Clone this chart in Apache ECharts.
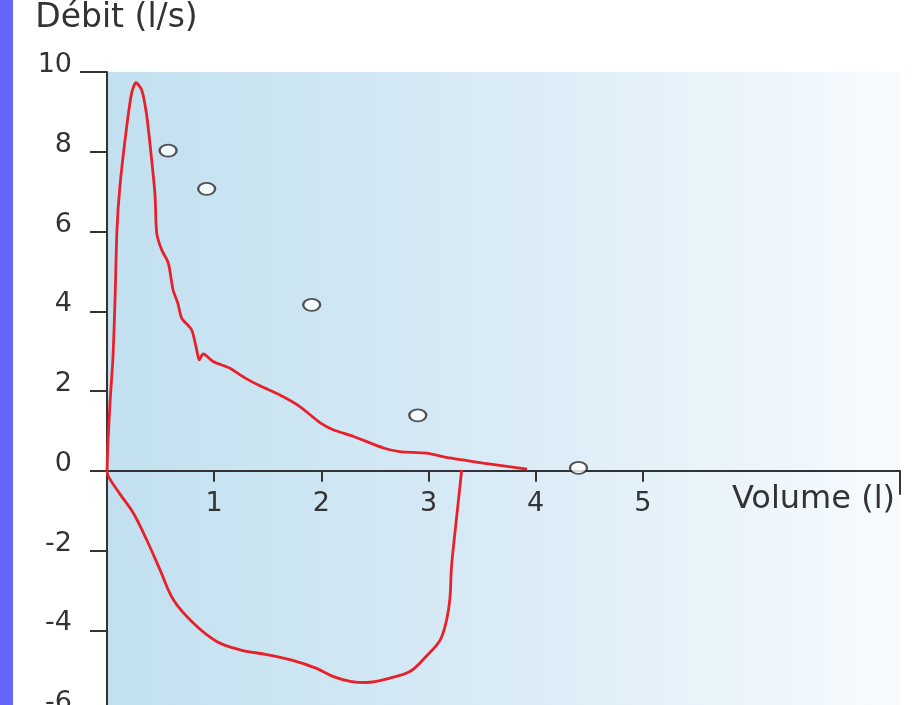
<!DOCTYPE html>
<html><head><meta charset="utf-8">
<script src="https://cdn.jsdelivr.net/npm/echarts@6/dist/echarts.min.js"></script>
<style>html,body{margin:0;padding:0;background:#fff;}#c{width:918px;height:705px;}</style>
</head><body><div id="c"></div>
<script>
// Expiratory limb (upper part of the loop): volume (l), flow (l/s)
const expVolume = [0, 0.01, 0.03, 0.056, 0.075, 0.093, 0.12, 0.184, 0.23, 0.27, 0.324, 0.37, 0.417, 0.448, 0.464, 0.51, 0.572, 0.616, 0.66, 0.697, 0.79, 0.837, 0.861, 0.898, 0.99, 1.147, 1.287, 1.427, 1.614, 1.80, 1.99, 2.11, 2.30, 2.58, 2.73, 2.98, 3.20, 3.51, 3.92];
const expFlow   = [0, 0.78, 1.78, 2.86, 4.29, 6.04, 7.12, 8.63, 9.47, 9.73, 9.55, 8.92, 7.79, 6.92, 5.96, 5.54, 5.21, 4.54, 4.21, 3.83, 3.53, 3.03, 2.78, 2.93, 2.74, 2.57, 2.33, 2.13, 1.90, 1.61, 1.20, 1.03, 0.86, 0.57, 0.48, 0.44, 0.32, 0.19, 0.04];
// Inspiratory limb (lower part of the loop)
const inspVolume = [0, 0.012, 0.12, 0.245, 0.37, 0.494, 0.618, 0.805, 1.023, 1.24, 1.49, 1.74, 1.95, 2.12, 2.27, 2.42, 2.64, 2.83, 2.98, 3.11, 3.17, 3.20, 3.215, 3.25, 3.31];
const inspFlow   = [0, -0.14, -0.58, -1.06, -1.73, -2.48, -3.23, -3.82, -4.28, -4.49, -4.61, -4.76, -4.95, -5.17, -5.28, -5.31, -5.20, -5.03, -4.65, -4.24, -3.73, -3.20, -2.40, -1.48, 0.02];
// Reference (predicted) points
const refVolume = [0.57, 0.93, 1.91, 2.90, 4.40];
const refFlow   = [8.03, 7.07, 4.16, 1.39, 0.07];
// Axes
const xTickValues = [1, 2, 3, 4, 5];
const xMin = 0, xMax = 7.4, xStep = 1;
const yMin = -6, yMax = 10, yStep = 2;
const xName = 'Volume (l)';
const yName = 'Débit (l/s)';

const zip = (a, b) => a.map((v, i) => [v, b[i]]);
const FONT = 'DejaVu Sans';
const AX = '#333';

// layout of the plot area
const W = 918, H = 705, gLeft = 107, gRight = 18, gTop = 72, gBottom = -5;
const plotH = H - gTop - gBottom;
const zeroFromBottom = H - (gTop + plotH * (yMax - 0) / (yMax - yMin));

const chart = echarts.init(document.getElementById('c'), null, {renderer: 'canvas'});
chart.setOption({
  animation: false,
  backgroundColor: '#ffffff',
  graphic: [{type: 'rect', left: 0, top: 0, shape: {width: 13, height: H}, style: {fill: '#6666ff'}, z: 100}],
  grid: [{
    left: gLeft, right: gRight, top: gTop, bottom: gBottom,
    show: true, borderWidth: 0, outerBoundsMode: 'none',
    backgroundColor: {type: 'linear', x: 0, y: 0, x2: 1, y2: 0, colorStops: [
      {offset: 0, color: '#c2e0f0'}, {offset: 0.5, color: '#d9ebf6'}, {offset: 1, color: '#f7fbfe'}]}
  }, {
    // upper half, whose bottom edge is the zero line: carries the x tick labels
    left: gLeft, right: gRight, top: gTop, bottom: zeroFromBottom,
    show: false, outerBoundsMode: 'none'
  }],
  xAxis: [{
    gridIndex: 0, type: 'value', min: xMin, max: xMax, interval: xStep, position: 'bottom',
    axisLine: {show: true, onZero: true, lineStyle: {color: AX, width: 2}},
    splitLine: {show: false},
    axisTick: {show: true, customValues: xTickValues, length: 11, lineStyle: {color: AX, width: 2}},
    axisLabel: {show: false},
    name: xName, nameLocation: 'end', nameGap: -5,
    nameTextStyle: {fontFamily: FONT, fontSize: 32, color: '#333', align: 'right', verticalAlign: 'top', padding: [13, 0, 0, 0]}
  }, {
    gridIndex: 0, type: 'value', min: xMin, max: xMax, position: 'bottom',
    axisLine: {show: true, onZero: true, onZeroAxisIndex: 0, lineStyle: {color: AX, width: 0, opacity: 0}},
    splitLine: {show: false},
    axisTick: {show: true, customValues: [xMax], length: 24, lineStyle: {color: AX, width: 2}},
    axisLabel: {show: false}
  }, {
    gridIndex: 1, type: 'value', min: xMin, max: xMax, interval: xStep, position: 'bottom',
    axisLine: {show: false, onZero: false},
    splitLine: {show: false},
    axisTick: {show: false},
    axisLabel: {
      fontFamily: FONT, fontSize: 27, color: '#333', margin: 20, hideOverlap: false,
      formatter: v => (xTickValues.indexOf(v) >= 0 ? String(v) : '')
    }
  }],
  yAxis: [{
    gridIndex: 0, type: 'value', min: yMin, max: yMax, interval: yStep, position: 'left',
    axisLine: {show: true, onZero: false, lineStyle: {color: AX, width: 2}},
    splitLine: {show: false},
    axisTick: {show: true, length: 17, lineStyle: {color: AX, width: 2}},
    axisLabel: {fontFamily: FONT, fontSize: 27, color: '#333', margin: 35, verticalAlign: 'bottom', lineHeight: 14},
    name: yName, nameLocation: 'end', nameGap: 37,
    nameTextStyle: {fontFamily: FONT, fontSize: 33, color: '#333', align: 'center', padding: [0, 0, 0, 19]}
  }, {
    gridIndex: 0, type: 'value', min: yMin, max: yMax, interval: yStep, position: 'left',
    axisLine: {show: true, onZero: false, lineStyle: {color: AX, width: 0, opacity: 0}},
    splitLine: {show: false},
    axisTick: {show: true, customValues: [yMax], length: 27, lineStyle: {color: AX, width: 2}},
    axisLabel: {show: false}
  }, {
    gridIndex: 1, type: 'value', min: 0, max: yMax, show: false
  }],
  series: [{
    type: 'line', xAxisIndex: 0, yAxisIndex: 0, data: zip(expVolume, expFlow),
    showSymbol: false, smooth: 0.25, lineStyle: {color: '#e8202a', width: 2.8}, z: 3
  }, {
    type: 'line', xAxisIndex: 0, yAxisIndex: 0, data: zip(inspVolume, inspFlow),
    showSymbol: false, smooth: 0.35, lineStyle: {color: '#e8202a', width: 2.8}, z: 3
  }, {
    type: 'scatter', xAxisIndex: 0, yAxisIndex: 0, data: zip(refVolume, refFlow),
    symbol: 'circle', symbolSize: [17, 12],
    itemStyle: {color: '#ffffff', borderColor: '#2a2a2a', borderWidth: 2}, z: 5
  }]
});
</script></body></html>
